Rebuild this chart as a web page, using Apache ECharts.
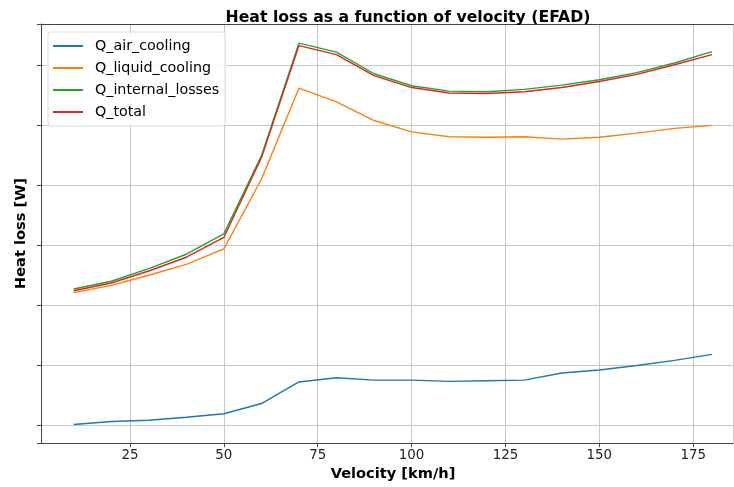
<!DOCTYPE html>
<html>
<head>
<meta charset="utf-8">
<script src="https://cdn.jsdelivr.net/npm/echarts@6/dist/echarts.min.js"></script>
<style>
html,body{margin:0;padding:0;background:#fff;}
#chart{width:734px;height:487px;}
</style>
</head>
<body>
<div id="chart"></div>
<script>
const velocity = [10,20,30,40,50,60,70,80,90,100,110,120,130,140,150,160,170,180];
const qAirCooling = [0.01,0.06,0.08,0.13,0.19,0.36,0.72,0.79,0.75,0.75,0.73,0.74,0.75,0.87,0.92,0.995,1.08,1.18];
const qLiquidCooling = [2.21,2.33,2.50,2.68,2.94,4.10,5.62,5.39,5.08,4.89,4.81,4.80,4.81,4.77,4.80,4.87,4.95,5.00];
const qInternalLosses = [2.27,2.40,2.61,2.85,3.19,4.49,6.37,6.22,5.86,5.66,5.57,5.56,5.60,5.67,5.76,5.88,6.04,6.23];
const qTotal = [2.24,2.37,2.57,2.80,3.13,4.46,6.33,6.18,5.83,5.63,5.54,5.53,5.56,5.63,5.73,5.85,6.01,6.18];
const seriesNames = ['Q_air_cooling','Q_liquid_cooling','Q_internal_losses','Q_total'];
const seriesColors = ['#1f77b4','#ff7f0e','#2ca02c','#d62728'];
const seriesValues = [qAirCooling,qLiquidCooling,qInternalLosses,qTotal];

const font = 'DejaVu Sans';
const chart = echarts.init(document.getElementById('chart'));
chart.setOption({
  animation:false,
  backgroundColor:'#ffffff',
  title:{
    text:'Heat loss as a function of velocity (EFAD)',
    left:403, top:5, textAlign:'center',
    textStyle:{fontFamily:font,fontSize:15.7,fontWeight:'bold',color:'#000'}
  },
  legend:{
    orient:'vertical', left:48, top:32,
    data:seriesNames,
    icon:'path://M0,0 L30,0 L30,2 L0,2 Z',
    itemWidth:30, itemHeight:2, itemGap:6,
    backgroundColor:'rgba(255,255,255,0.85)',
    borderColor:'#dddddd', borderWidth:1, borderRadius:3,
    padding:[6,6,6,5],
    textStyle:{fontFamily:font,fontSize:14.3,color:'#000',lineHeight:16,padding:[0,0,0,7]}
  },
  grid:{left:41, top:24, right:1, bottom:38, show:false, containLabel:false},
  xAxis:[{
    type:'value', min:1.3, max:185.6, minInterval:25, maxInterval:25,
    name:'Velocity [km/h]', nameLocation:'middle', nameGap:23,
    nameTextStyle:{fontFamily:font,fontSize:14.6,fontWeight:'bold',color:'#000',padding:[0,0,0,12]},
    axisLine:{show:true,onZero:false,lineStyle:{color:'#444'}},
    axisTick:{show:true,length:4,lineStyle:{color:'#444'}},
    axisLabel:{fontFamily:font,fontSize:13.4,color:'#222',margin:6,showMinLabel:false,showMaxLabel:false},
    splitLine:{show:true,lineStyle:{color:'#c8c8c8',width:1}}
  },{
    type:'value', position:'top', min:1.3, max:185.6,
    axisLine:{show:true,onZero:false,lineStyle:{color:'#444'}},
    axisTick:{show:false}, axisLabel:{show:false}, splitLine:{show:false}
  }],
  yAxis:{
    type:'value', min:-0.3, max:6.69, minInterval:1, maxInterval:1,
    name:'Heat loss [W]', nameLocation:'middle', nameGap:12,
    nameTextStyle:{fontFamily:font,fontSize:14.6,fontWeight:'bold',color:'#000'},
    axisLine:{show:true,onZero:false,lineStyle:{color:'#444'}},
    axisTick:{show:true,length:4,lineStyle:{color:'#444'}},
    axisLabel:{show:false},
    splitLine:{show:true,lineStyle:{color:'#c8c8c8',width:1}}
  },
  series:seriesNames.map((n,i)=>({
    name:n, type:'line', showSymbol:false, symbol:'none', xAxisIndex:0,
    data:velocity.map((v,j)=>[v,seriesValues[i][j]]),
    lineStyle:{color:seriesColors[i],width:1.4},
    itemStyle:{color:seriesColors[i]}
  }))
});
</script>
</body>
</html>
